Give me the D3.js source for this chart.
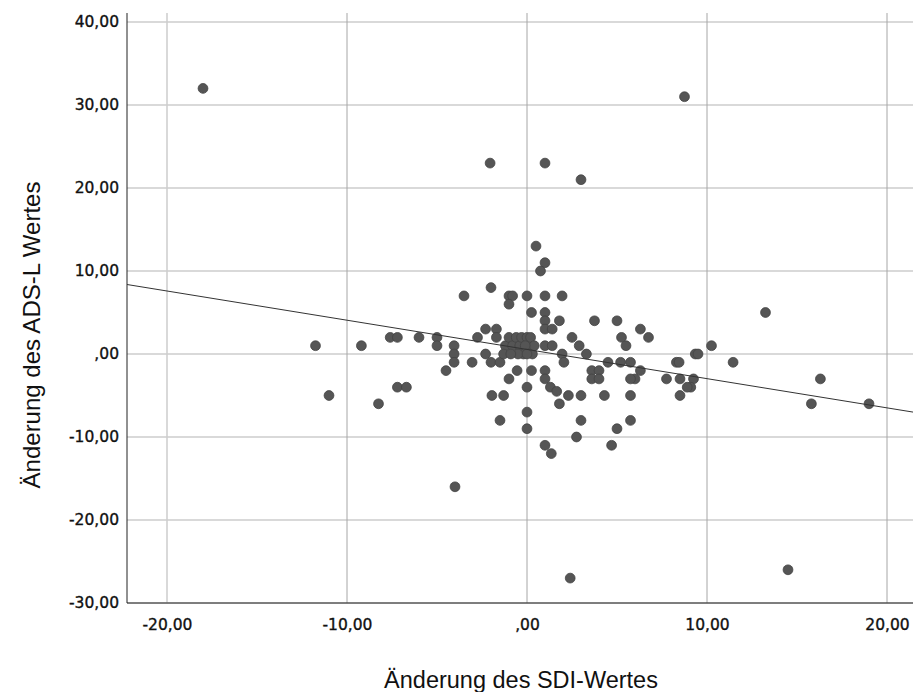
<!DOCTYPE html>
<html><head><meta charset="utf-8">
<script src="https://cdn.jsdelivr.net/npm/d3@7"></script>
<style>body{margin:0;background:#fff}</style>
</head><body>
<svg id="c" width="915" height="692"></svg>
<script>
const xTicks = [-20, -10, 0, 10, 20];
const yTicks = [-30, -20, -10, 0, 10, 20, 30, 40];
const xTitle = "Änderung des SDI-Wertes";
const yTitle = "Änderung des ADS-L Wertes";
const sdiChange = [-18.0,8.75,-2.05,1.0,3.0,0.5,1.0,0.75,-2.0,-3.5,
 -11.75,-9.2,-11.0,-8.25,-7.2,-6.7,-7.6,-7.2,-6.0,
 -5.0,-5.0,-4.05,-4.05,-4.05,-4.5,-3.05,-2.75,-2.3,-1.7,-1.7,
 -2.3,-2.0,-1.5,
 -1.0,-0.8,-1.0,0,1.0,1.95,0.25,1.0,1.0,1.0,1.8,1.4,3.75,5.0,
 -1.2,-1.0,-0.8,-0.6,-0.4,-0.3,-0.2,0,0.1,0.3,0.2,-0.5,-1.3,0.4,-0.9,-0.1,0.0,
 -0.55,0.25,-1.0,0,-1.95,-1.3,0,0,-1.5,
 1.0,1.35,2.75,3.0,2.3,3.0,4.3,
 1.0,1.0,1.3,1.65,1.8,
 1.95,2.05,2.5,2.9,3.3,1.0,1.4,
 4.5,3.6,4.0,3.6,4.0,
 5.25,5.5,6.3,6.75,5.2,5.75,6.3,6.0,5.75,5.75,5.75,5.0,4.7,
 7.75,8.3,8.45,8.5,9.35,9.5,10.25,9.25,9.1,8.9,8.5,11.45,
 13.25,16.3,15.8,19.0,14.5,2.4,-4.0];
const adslChange = [32,31,23,23,21,13,11,10,8,7,
 1,1,-5,-6,-4,-4,2,2,2,
 2,1,1,0,-1,-2,-1,2,3,3,2,
 0,-1,-1,
 7,7,6,7,7,7,5,5,4,3,4,3,4,4,
 1,2,1,2,1,2,0,2,1,0,2,0,0,1,0,1,0,
 -2,-2,-3,-4,-5,-5,-7,-9,-8,
 -11,-12,-10,-8,-5,-5,-5,
 -2,-3,-4,-4.5,-6,
 0,-1,2,1,0,1,1,
 -1,-2,-2,-3,-3,
 2,1,3,2,-1,-1,-2,-3,-3,-5,-8,-9,-11,
 -3,-1,-1,-3,0,0,1,-3,-4,-4,-5,-1,
 5,-3,-6,-6,-26,-27,-16];
const fitIntercept = 0.55, fitSlope = -0.352;

const svg = d3.select("#c");
const L = 127, R = 913, T = 13, B = 603;
const x = d3.scaleLinear().domain([-20, 20]).range([167, 887]);
const y = d3.scaleLinear().domain([-30, 40]).range([603, 22]);
const fmt = d => d === 0 ? ",00" : (d < 0 ? "-" : "") + Math.abs(d).toFixed(2).replace(".", ",");

// horizontal grid
svg.append("g").selectAll("line").data(yTicks).join("line")
  .attr("x1", L).attr("x2", R).attr("y1", d => y(d)).attr("y2", d => y(d))
  .attr("stroke", "#cdcdcd").attr("stroke-width", 1.5);
// vertical grid
svg.append("g").selectAll("line").data(xTicks).join("line")
  .attr("x1", d => x(d)).attr("x2", d => x(d)).attr("y1", T).attr("y2", B)
  .attr("stroke", d => d === -20 ? "#cdcdcd" : "#a6a6a6")
  .attr("stroke-width", d => d === -20 ? 1.5 : 1);

// axes
const yAxis = svg.append("g").attr("transform", `translate(${L},0)`)
  .call(d3.axisLeft(y).tickValues(yTicks).tickFormat(fmt).tickSize(0).tickPadding(8));
yAxis.select(".domain").attr("d", `M0,${T}V${B}`).attr("stroke", "#222");
const xAxis = svg.append("g").attr("transform", `translate(0,${B})`)
  .call(d3.axisBottom(x).tickValues(xTicks).tickFormat(fmt).tickSize(0).tickPadding(16));
xAxis.select(".domain").attr("d", `M${L},0H${R}`).attr("stroke", "#222");
svg.selectAll(".tick text").attr("font-family", "DejaVu Sans").attr("font-size", 15.5)
  .attr("fill", "#111").attr("stroke", "#111").attr("stroke-width", 0.35);

// points
const pts = sdiChange.map((v, i) => [v, adslChange[i]]);
svg.append("g").selectAll("circle").data(pts).join("circle")
  .attr("cx", d => x(d[0])).attr("cy", d => y(d[1])).attr("r", 4.9)
  .attr("fill", "#555").attr("stroke", "#444").attr("stroke-width", 0.8);

// fit line
const x0 = x.invert(L), x1 = x.invert(R);
svg.append("line")
  .attr("x1", L).attr("x2", R)
  .attr("y1", y(fitIntercept + fitSlope * x0)).attr("y2", y(fitIntercept + fitSlope * x1))
  .attr("stroke", "#333").attr("stroke-width", 1);

// titles
svg.append("text").attr("x", 521).attr("y", 688).attr("text-anchor", "middle")
  .attr("font-family", "Liberation Sans, Arial").attr("font-size", 23.5).attr("fill", "#111")
  .text(xTitle);
svg.append("text").attr("transform", "translate(40,335) rotate(-90)").attr("text-anchor", "middle")
  .attr("font-family", "Liberation Sans, Arial").attr("font-size", 24).attr("fill", "#111")
  .text(yTitle);
</script>
</body></html>
